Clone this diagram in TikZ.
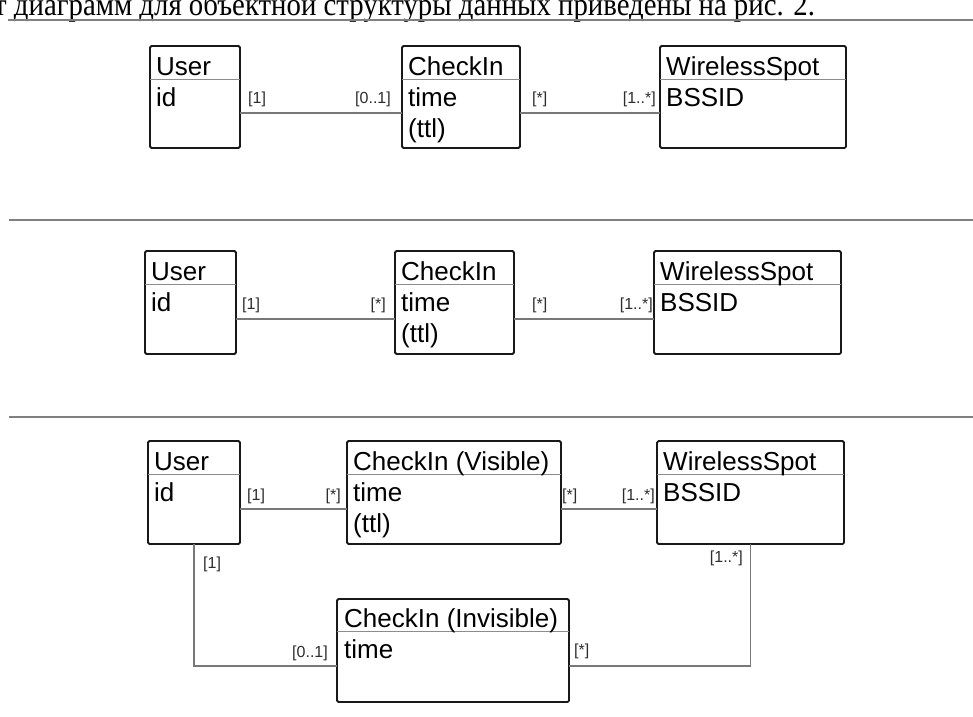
\documentclass[tikz,border=0pt]{standalone}
\usepackage{graphicx}
\usepackage{fontspec}
\setmainfont{Liberation Sans}
\newfontfamily\rufont{Liberation Serif}
\definecolor{boxline}{RGB}{25,25,25}
\definecolor{linkline}{RGB}{120,120,120}
\definecolor{ruleline}{RGB}{128,128,128}
\definecolor{multtext}{RGB}{45,45,45}
\tikzset{
  classbox/.style={draw=boxline, line width=1.8pt, rounded corners=1.5pt, fill=white,
    anchor=north west, inner sep=0pt, outer sep=0pt},
  classtext/.style={anchor=base west, inner sep=0pt, align=left, font=\fontsize{26}{31}\selectfont},
  divider/.style={draw=black!45, line width=0.8pt},
  assoc/.style={draw=linkline, line width=1.3pt},
  mult/.style={inner sep=0pt, text=multtext, font=\fontsize{16}{18}\selectfont},
  separator/.style={draw=ruleline, line width=1.8pt},
}

\begin{document}
\begin{tikzpicture}[x=1pt, y=-1pt]
	\clip (0,0) rectangle (973,716);
	% caption cut off by the page
	\node[anchor=base west, inner sep=0pt, font=\rufont\fontsize{32}{34}\selectfont] (caption) at (-6,15) {\scalebox{0.9}[1]{т диаграмм для объектной структуры данных приведены на рис. 2.}};
	\draw[separator, line width=1.2pt] (8,20) -- (973,20);
	\draw[separator] (9,220) -- (973,220);
	\draw[separator] (9,417) -- (973,417);

	% first variant
	\node[classbox, minimum width=90pt, minimum height=102pt] (user1) at (150,46) {};
	\node[classbox, minimum width=118pt, minimum height=102pt] (check1) at (402,46) {};
	\node[classbox, minimum width=186pt, minimum height=102pt] (spot1) at (660,46) {};
	\draw[assoc] ([shift={(0,67)}]user1.north east) -- ([shift={(0,67)}]check1.north west);
	\draw[assoc] ([shift={(0,67)}]check1.north east) -- ([shift={(0,67)}]spot1.north west);
	\draw[divider] ([shift={(0,33)}]user1.north west) -- ([shift={(0,33)}]user1.north east);
	\draw[divider] ([shift={(0,33)}]check1.north west) -- ([shift={(0,33)}]check1.north east);
	\draw[divider] ([shift={(0,33)}]spot1.north west) -- ([shift={(0,33)}]spot1.north east);
	\node[classtext] (user1t) at ([shift={(6,29)}]user1.north west) {User};
	\node[classtext] (user1a) at ([shift={(6,60)}]user1.north west) {id};
	\node[classtext] (check1t) at ([shift={(6,29)}]check1.north west) {CheckIn};
	\node[classtext] (check1a) at ([shift={(6,91)}]check1.north west) {time\\(ttl)};
	\node[classtext] (spot1t) at ([shift={(6,29)}]spot1.north west) {WirelessSpot};
	\node[classtext] (spot1a) at ([shift={(6,60)}]spot1.north west) {BSSID};
	\node[mult, anchor=base west] (m1a) at (248,103) {[1]};
	\node[mult, anchor=base east] (m1b) at (391,103) {[0..1]};
	\node[mult, anchor=base west] (m1c) at (532,103) {[*]};
	\node[mult, anchor=base east] (m1d) at (656,103) {[1..*]};

	% second variant
	\node[classbox, minimum width=91pt, minimum height=103pt] (user2) at (145,251) {};
	\node[classbox, minimum width=119pt, minimum height=103pt] (check2) at (395,251) {};
	\node[classbox, minimum width=187pt, minimum height=103pt] (spot2) at (654,251) {};
	\draw[assoc] ([shift={(0,68)}]user2.north east) -- ([shift={(0,68)}]check2.north west);
	\draw[assoc] ([shift={(0,68)}]check2.north east) -- ([shift={(0,68)}]spot2.north west);
	\draw[divider] ([shift={(0,33)}]user2.north west) -- ([shift={(0,33)}]user2.north east);
	\draw[divider] ([shift={(0,33)}]check2.north west) -- ([shift={(0,33)}]check2.north east);
	\draw[divider] ([shift={(0,33)}]spot2.north west) -- ([shift={(0,33)}]spot2.north east);
	\node[classtext] (user2t) at ([shift={(6,29)}]user2.north west) {User};
	\node[classtext] (user2a) at ([shift={(6,60)}]user2.north west) {id};
	\node[classtext] (check2t) at ([shift={(6,29)}]check2.north west) {CheckIn};
	\node[classtext] (check2a) at ([shift={(6,91)}]check2.north west) {time\\(ttl)};
	\node[classtext] (spot2t) at ([shift={(6,29)}]spot2.north west) {WirelessSpot};
	\node[classtext] (spot2a) at ([shift={(6,60)}]spot2.north west) {BSSID};
	\node[mult, anchor=base west] (m2a) at (242,309) {[1]};
	\node[mult, anchor=base east] (m2b) at (386,309) {[*]};
	\node[mult, anchor=base west] (m2c) at (532,309) {[*]};
	\node[mult, anchor=base east] (m2d) at (653,309) {[1..*]};

	% third variant
	\node[classbox, minimum width=92pt, minimum height=103pt] (user3) at (148,441) {};
	\node[classbox, minimum width=214pt, minimum height=103pt] (check3) at (347,441) {};
	\node[classbox, minimum width=187pt, minimum height=103pt] (spot3) at (657,441) {};
	\node[classbox, minimum width=232pt, minimum height=103pt] (inv3) at (337,599) {};
	\draw[assoc] ([shift={(0,68)}]user3.north east) -- ([shift={(0,68)}]check3.north west);
	\draw[assoc] ([shift={(0,68)}]check3.north east) -- ([shift={(0,68)}]spot3.north west);
	\draw[assoc] (user3.south) |- ([shift={(0,67)}]inv3.north west);
	\draw[assoc] (spot3.south) |- ([shift={(0,67)}]inv3.north east);
	\draw[divider] ([shift={(0,33)}]user3.north west) -- ([shift={(0,33)}]user3.north east);
	\draw[divider] ([shift={(0,33)}]check3.north west) -- ([shift={(0,33)}]check3.north east);
	\draw[divider] ([shift={(0,33)}]spot3.north west) -- ([shift={(0,33)}]spot3.north east);
	\draw[divider] ([shift={(0,32)}]inv3.north west) -- ([shift={(0,32)}]inv3.north east);
	\node[classtext] (user3t) at ([shift={(6,29)}]user3.north west) {User};
	\node[classtext] (user3a) at ([shift={(6,60)}]user3.north west) {id};
	\node[classtext] (check3t) at ([shift={(6,29)}]check3.north west) {CheckIn (Visible)};
	\node[classtext] (check3a) at ([shift={(6,91)}]check3.north west) {time\\(ttl)};
	\node[classtext] (spot3t) at ([shift={(6,29)}]spot3.north west) {WirelessSpot};
	\node[classtext] (spot3a) at ([shift={(6,60)}]spot3.north west) {BSSID};
	\node[classtext] (inv3t) at ([shift={(7,28)}]inv3.north west) {CheckIn (Invisible)};
	\node[classtext] (inv3a) at ([shift={(7,59)}]inv3.north west) {time};
	\node[mult, anchor=base west] (m3a) at (247,500) {[1]};
	\node[mult, anchor=base east] (m3b) at (341,500) {[*]};
	\node[mult, anchor=base west] (m3c) at (562,500) {[*]};
	\node[mult, anchor=base east] (m3d) at (655,500) {[1..*]};
	\node[mult, anchor=base west] (m3e) at (203,568) {[1]};
	\node[mult, anchor=base east] (m3f) at (328,657) {[0..1]};
	\node[mult, anchor=base west] (m3g) at (574,655) {[*]};
	\node[mult, anchor=base east] (m3h) at (743,562) {[1..*]};
\end{tikzpicture}
\end{document}
